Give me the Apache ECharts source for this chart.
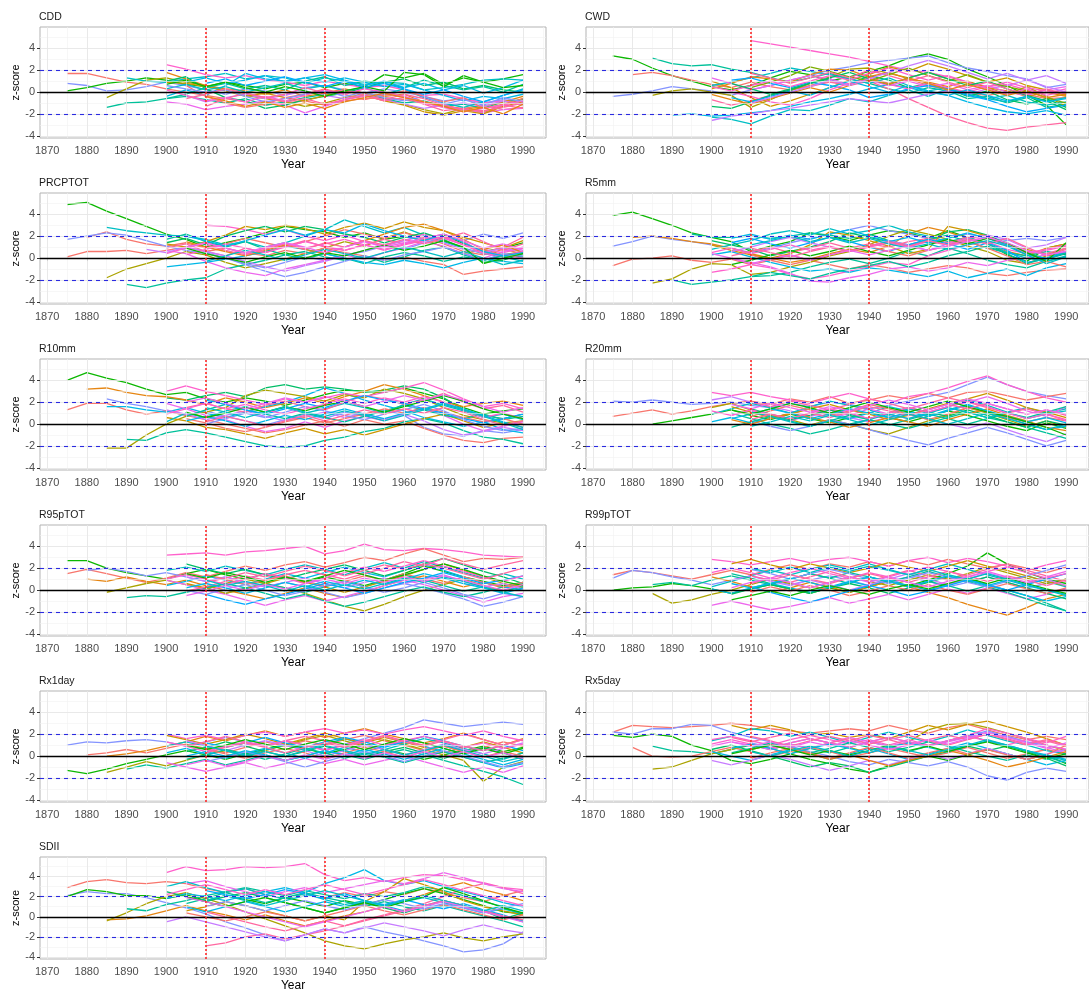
<!DOCTYPE html>
<html>
<head>
<meta charset="utf-8">
<script src="https://cdn.jsdelivr.net/npm/echarts@6/dist/echarts.min.js"></script>
<style>
html,body{margin:0;padding:0;background:#ffffff;}
#chart{width:1089px;height:993px;}
</style>
</head>
<body>
<div id="chart"></div>
<script>
// Moving-window z-scores of ETCCDI precipitation indices, one line per station.
// Each station row: [station slot, first year, z-scores every STEP years up to 1990].

const STEP = 5;
const YEAR_TICKS = [1870,1880,1890,1900,1910,1920,1930,1940,1950,1960,1970,1980,1990];
const YEAR_MINOR = [1875,1885,1895,1905,1915,1925,1935,1945,1955,1965,1975,1985,1995];
const Z_TICKS = [-4,-2,0,2,4];
const Z_MINOR = [-3,-1,1,3,5];
const BREAK_YEARS = [1910,1940];
const Z_LIMITS = [-2,2];
const INDICES = ['CDD','CWD','PRCPTOT','R5mm','R10mm','R20mm','R95pTOT','R99pTOT','Rx1day','Rx5day','SDII'];

const cdd = [
  [0,1875,[1.7,1.7,1.3,0.9,0.7,0.3,0.0,-0.3,-0.6,-0.9,-1.2,-1.0,-0.8,-1.2,-0.8,-0.6,-0.5,-0.7,-1.0,-1.3,-1.5,-1.2,-1.6,-1.4]],
  [11,1875,[0.8,0.6,0.1,0.2,0.5,0.9,0.6,0.2,-0.2,0.3,0.1,-0.3,0.4,0.6,0.2,-0.1,0.3,0.0,-0.4,-0.8,-0.6,-1.0,-0.7,-0.9]],
  [5,1875,[0.1,0.4,0.8,1.0,1.3,1.1,0.7,0.5,0.9,0.6,0.3,0.7,0.9,0.4,0.8,0.5,1.6,1.3,1.7,0.7,1.3,0.9,1.2,1.6]],
  [3,1885,[-0.5,0.3,1.1,1.3,0.9,0.6,0.2,-0.3,-0.6,-0.9,-1.3,-1.0,-0.5,-0.2,-0.6,-1.1,-1.6,-2.0,-1.5,-1.9,-1.2,-0.6]],
  [7,1885,[-1.4,-1.0,-0.9,-0.6,-0.4,-0.7,-1.0,-0.6,-1.2,-0.9,-0.5,-0.2,0.2,-0.3,-0.6,-1.0,-0.8,-1.3,-1.1,-1.5,-0.9,-0.7]],
  [8,1890,[1.3,1.0,0.9,1.2,1.4,1.7,1.2,1.5,1.3,0.8,1.3,1.0,0.7,0.9,0.8,0.2,0.4,0.7,1.1,1.2,1.1]],
  [14,1900,[2.5,2.1,1.6,1.3,1.5,1.1,0.9,0.6,1.0,0.7,0.4,0.6,0.2,-0.3,-0.2,-0.6,-1.0,-0.8,-1.1]],
  [1,1900,[1.8,1.2,0.6,0.3,0.1,-0.2,0.2,-0.4,-0.1,0.3,-0.1,-0.4,-0.2,-0.9,-1.2,-1.6,-1.3,-0.9,-0.4]],
  [9,1900,[-0.4,0.2,-0.3,0.6,1.7,1.2,1.0,1.3,0.9,1.3,0.9,0.5,0.7,0.2,-0.3,-0.8,-0.4,-0.6,-0.2]],
  [13,1900,[-0.9,-1.1,-1.6,-1.3,-1.1,-0.8,-1.2,-1.9,-1.3,-0.7,-0.4,-0.2,-0.4,-0.9,-1.4,-1.6,-1.9,-1.6,-1.5]],
  [6,1900,[1.0,1.4,0.3,-0.5,-0.8,-1.5,-1.2,-0.7,-0.4,-0.1,0.4,0.9,1.2,0.6,0.9,0.3,0.6,0.2,0.0]],
  [12,1905,[-0.3,-0.9,-0.5,-0.2,-0.6,-0.3,0.1,-0.3,-0.6,-0.2,-0.7,-1.1,-1.5,-1.2,-1.0,-1.3,-0.8,-1.2]],
  [2,1900,[0.9,0.8,0.5,0.1,-0.4,-0.1,-0.5,-0.8,-0.3,0.1,-0.3,-0.8,-1.2,-1.8,-2.1,-1.7,-2.0,-1.3,-0.9]],
  [8,1900,[0.3,0.7,0.2,0.5,0.0,0.4,0.8,0.3,0.6,0.1,0.4,-0.2,0.3,-0.5,-1.0,-1.4,-0.9,-0.3,0.3]],
  [0,1905,[0.6,-0.4,-1.0,-1.4,-1.1,-0.5,-0.2,0.3,-0.2,-0.7,-0.3,0.1,-0.4,-0.9,-0.5,-1.5,-1.1,-0.6]],
  [15,1910,[-1.3,-0.6,-0.1,-0.5,-0.2,0.4,-0.1,0.2,-0.3,-0.8,-0.5,-1.1,-1.7,-1.5,-1.8,-1.2,-1.5]],
  [7,1900,[-0.6,-0.2,0.4,0.8,0.3,0.6,0.2,1.0,1.4,0.6,1.0,0.8,0.4,1.1,0.6,0.2,0.5,0.0,0.7]],
  [11,1900,[0.6,0.3,0.0,0.2,-0.4,-0.9,-0.6,-0.2,0.1,-0.4,0.0,-0.5,-0.8,-0.4,-1.1,-0.7,-1.2,-0.5,-0.9]],
  [14,1900,[0.2,-0.3,-0.8,-0.5,-0.9,-0.4,-0.8,-0.3,0.2,-0.2,0.3,0.0,-0.4,-1.0,-1.4,-1.8,-1.5,-1.2,-0.8]],
  [9,1905,[0.9,1.3,0.8,1.1,1.5,0.9,1.3,1.6,1.1,0.6,1.0,0.4,0.8,0.2,0.6,-0.1,0.4,1.1]],
  [5,1900,[0.7,1.1,0.5,0.9,0.4,0.0,0.5,0.1,-0.4,0.1,0.5,0.1,1.8,1.6,0.5,1.5,0.9,0.4,0.6]],
  [15,1905,[-0.6,-0.2,0.3,-0.1,-0.5,-0.9,-0.6,-1.1,-0.7,-0.3,-0.7,-0.2,-0.6,-1.2,-1.6,-1.7,-1.4,-1.0]],
  [10,1910,[0.8,1.2,0.6,1.0,1.4,0.9,0.5,1.0,0.4,0.8,0.3,-0.2,0.2,-0.4,-0.9,-0.3,0.2]],
  [1,1910,[-0.4,-0.8,-1.3,-0.9,-1.4,-1.0,-1.5,-0.9,-0.5,-0.1,-0.5,-0.9,-1.3,-1.8,-1.4,-2.0,-1.1]]
];

const cwd = [
  [5,1875,[3.3,3.0,2.2,1.5,1.0,0.5,0.2,0.6,1.3,1.9,1.6,1.0,1.4,1.9,2.4,3.1,3.5,3.0,2.1,1.4,0.6,-0.3,-1.2,-3.0]],
  [7,1885,[3.1,2.6,2.4,2.5,2.1,1.8,1.3,0.9,1.3,1.7,1.2,0.8,0.3,-0.1,0.4,0.1,-0.6,-0.4,-1.0,-0.5,-1.4,-1.1]],
  [14,1910,[4.7,4.4,4.1,3.8,3.5,3.2,2.8,2.4,2.0,1.8,1.4,0.9,0.5,0.7,0.2,-0.1,0.3]],
  [15,1900,[-0.7,-1.2,-0.8,-0.3,0.2,0.5,0.9,0.6,1.0,0.3,-0.6,-1.4,-2.2,-2.8,-3.3,-3.5,-3.2,-3.0,-2.8]],
  [11,1875,[-0.4,-0.2,0.1,0.5,0.3,0.1,-0.3,0.2,0.6,1.1,1.5,2.0,2.3,2.7,2.9,3.1,3.3,2.7,2.2,1.9,1.5,1.2,0.4,0.7]],
  [0,1880,[1.6,1.8,1.5,1.1,0.7,0.4,0.9,0.5,0.2,0.6,1.0,0.7,1.4,0.8,1.2,0.6,0.2,-0.1,-0.3,0.0,-0.2,-0.6,-0.5]],
  [3,1885,[-0.3,0.1,0.3,0.0,-0.3,-1.4,-0.7,0.1,0.8,1.4,2.1,2.2,1.7,1.3,1.8,1.2,0.8,0.4,-0.2,0.5,-0.4,-1.3]],
  [9,1890,[-2.1,-2.0,-2.2,-2.1,-1.9,-1.7,-1.3,-0.9,-0.6,-0.2,0.3,0.7,0.4,0.0,-0.3,-0.9,-1.4,-1.8,-2.0,-1.7,-2.1]],
  [8,1900,[-2.3,-2.5,-2.9,-2.2,-1.6,-1.7,-1.2,-0.6,-0.9,-0.3,0.2,-0.4,0.3,0.0,-0.6,-0.9,-0.4,-0.8,-0.5]],
  [6,1900,[-1.3,-1.5,-0.9,-0.3,0.2,0.8,1.2,0.7,1.5,1.1,0.4,0.8,0.3,-0.4,0.1,-0.7,-1.1,-0.6,-1.4]],
  [2,1900,[1.0,0.4,-0.5,-1.3,-0.8,-0.2,0.4,1.1,1.6,2.3,1.9,2.6,2.1,1.5,0.9,1.3,0.6,0.2,-0.3]],
  [12,1900,[-2.6,-2.2,-2.0,-1.7,-1.5,-1.2,-0.9,-0.6,-0.8,-1.0,-0.6,-0.2,0.1,-0.2,0.3,0.6,1.1,1.5,0.8]],
  [8,1900,[0.6,0.9,1.3,1.7,2.2,1.9,1.6,1.2,0.8,1.3,0.6,0.1,0.4,-0.2,-0.6,-0.3,-0.9,-1.2,-0.9]],
  [1,1900,[0.3,0.8,1.4,1.2,0.9,1.6,2.1,2.0,1.4,1.8,1.2,0.9,0.5,1.0,0.4,0.1,-0.4,0.0,-0.4]],
  [13,1900,[1.3,0.8,0.2,0.6,1.1,1.5,1.2,0.7,1.1,0.6,1.0,0.5,0.8,0.2,0.6,0.0,-0.3,0.2,0.5]],
  [10,1905,[1.1,1.3,0.8,0.4,0.9,0.6,0.2,-0.5,-0.2,0.3,0.6,0.3,-0.3,-0.7,-1.3,-1.8,-1.5,-1.2]],
  [14,1905,[0.0,-0.4,-0.9,-1.2,-0.6,0.2,0.8,1.2,0.7,0.3,0.8,0.4,0.0,0.5,0.9,0.4,0.1,-0.1]],
  [4,1910,[0.4,0.9,1.5,2.3,1.9,1.4,1.0,1.6,2.2,1.5,1.0,1.6,0.9,0.5,0.1,-0.5,-1.0]],
  [14,1900,[0.5,0.1,0.6,1.0,0.5,1.0,1.5,1.1,1.7,2.2,1.6,1.1,1.5,0.9,0.3,-0.2,0.3,-0.3,0.1]],
  [6,1905,[0.8,0.3,-0.2,0.3,0.8,1.3,1.8,1.2,0.7,1.3,1.8,1.2,0.6,1.0,0.3,-0.3,-0.8,-1.6]],
  [9,1905,[-0.5,-0.9,-0.4,0.1,-0.3,0.4,1.0,0.5,0.0,0.6,0.1,-0.3,0.2,-0.3,-0.8,-0.4,-0.9,-0.6]],
  [15,1910,[1.7,1.3,0.8,1.3,1.8,1.3,2.0,1.5,1.0,1.5,0.9,0.4,0.9,0.3,-0.2,0.3,-0.2]],
  [1,1900,[-0.2,-0.7,-1.1,-0.6,-0.1,0.4,0.0,0.6,1.2,0.7,1.3,0.8,0.2,0.7,0.2,-0.3,0.1,-0.5,-0.2]],
  [12,1910,[-1.0,-0.5,0.0,0.5,1.1,0.6,1.2,1.8,2.4,2.9,2.4,1.8,1.2,1.7,1.1,0.5,0.0]]
];

const prcptot = [
  [5,1875,[4.9,5.1,4.3,3.6,2.9,2.2,1.7,1.0,1.4,1.8,2.3,2.9,2.6,2.4,1.9,2.3,1.7,2.0,1.6,2.1,1.3,0.6,0.9,1.4]],
  [3,1885,[-1.8,-1.0,-0.5,0.0,0.6,0.3,-0.4,-0.9,-0.5,-0.1,0.4,0.9,1.5,1.1,1.8,2.4,1.7,1.0,0.4,0.8,0.3,0.6]],
  [7,1890,[-2.4,-2.7,-2.3,-2.0,-1.8,-1.0,-0.6,-0.2,0.3,-0.1,0.4,0.0,-0.5,0.1,0.5,0.2,-0.3,0.1,-0.2,0.3,0.5]],
  [0,1875,[0.1,0.6,0.6,0.7,0.4,0.7,1.0,0.6,0.9,0.5,0.2,0.7,0.4,0.9,0.5,0.2,-0.2,0.1,-0.3,-0.6,-1.5,-1.2,-1.0,-0.8]],
  [0,1880,[1.9,2.4,1.7,1.3,1.1,1.4,0.9,1.3,1.8,1.4,1.0,1.5,2.0,2.6,2.2,1.8,2.3,1.9,1.3,0.6,0.3,0.8,0.4]],
  [11,1875,[1.7,2.0,2.3,2.1,1.6,1.1,0.7,0.4,0.0,-0.5,-0.9,-0.4,0.1,-0.2,0.3,0.6,1.1,0.8,1.4,1.9,1.6,2.2,1.8,2.3]],
  [8,1885,[2.8,2.5,2.3,2.1,2.0,1.7,1.2,1.5,1.0,1.4,2.0,2.6,3.5,2.9,2.3,2.8,2.1,1.5,0.9,0.4,0.1,-0.3]],
  [14,1910,[3.0,2.9,2.6,2.2,2.6,2.0,1.6,2.1,1.5,1.1,1.6,2.2,1.8,1.2,0.8,0.5,0.9]],
  [2,1900,[1.3,1.0,1.5,2.1,2.9,2.6,3.0,2.7,2.2,2.8,3.2,2.7,3.3,2.8,2.5,1.9,1.4,0.9,1.6]],
  [13,1900,[0.7,0.4,-0.3,-0.9,-1.3,-1.6,-1.0,-0.6,-0.2,0.3,-0.1,0.5,0.9,1.5,1.1,0.4,0.0,0.6,1.0]],
  [9,1900,[-0.8,-0.6,-0.4,-0.1,0.2,0.6,1.1,0.8,0.4,0.0,-0.4,-0.6,-0.2,-0.5,-0.9,-0.4,0.0,-0.3,-0.5]],
  [6,1900,[1.4,1.8,1.2,2.0,2.5,2.9,2.4,2.9,2.6,2.2,1.9,1.4,1.9,2.3,1.7,0.9,-0.4,-0.2,0.4]],
  [15,1900,[0.9,1.3,0.6,0.2,0.9,0.5,1.1,1.6,1.0,0.7,1.2,1.7,1.3,1.8,2.2,1.5,0.5,1.0,1.9]],
  [7,1900,[1.7,2.2,1.5,1.0,1.5,0.8,0.3,0.6,0.1,-0.2,0.2,-0.4,0.1,0.7,1.0,0.3,-0.2,0.2,0.1]],
  [12,1895,[0.8,0.5,1.0,0.6,0.2,-0.3,-0.8,-1.2,-0.7,-0.3,0.2,0.7,1.2,1.6,2.0,1.4,0.8,0.5,0.9,0.6]],
  [1,1905,[1.5,1.0,0.6,0.2,0.7,1.2,0.8,0.4,1.0,1.6,2.2,2.8,3.1,2.5,1.7,0.8,1.2,0.5]],
  [14,1905,[0.3,0.8,1.3,0.9,0.5,1.0,1.5,1.1,0.7,1.2,0.8,1.3,1.6,2.0,1.2,0.6,0.3,0.0]],
  [11,1910,[0.5,0.0,-0.6,-1.2,-1.7,-1.3,-0.8,-0.3,0.2,-0.2,0.3,0.6,1.0,0.4,-0.2,0.4,0.2]],
  [14,1900,[0.4,0.9,1.4,0.9,0.4,0.9,1.4,0.9,1.3,1.7,1.2,0.7,1.2,1.6,1.9,1.2,0.4,0.2,0.6]],
  [9,1905,[2.0,1.6,1.1,1.6,2.1,2.6,2.1,2.6,2.3,3.1,2.5,2.0,1.6,2.2,1.4,0.6,0.2,0.5]],
  [5,1905,[0.9,0.4,0.0,-0.4,0.1,0.5,0.0,0.5,0.2,0.7,1.2,0.7,1.1,1.6,1.0,-0.5,0.0,0.4]],
  [15,1910,[1.2,0.7,0.3,0.8,1.3,0.8,1.4,1.0,1.6,1.2,1.7,1.3,1.8,2.3,1.5,0.7,1.3]],
  [8,1910,[-0.3,0.2,0.7,0.3,-0.2,0.3,0.8,0.4,0.0,0.5,1.0,0.6,0.1,0.6,0.0,-0.6,-0.2]],
  [13,1905,[1.0,1.4,0.9,0.5,1.0,1.4,1.0,0.5,1.0,1.5,1.0,1.4,1.8,2.2,1.6,0.9,1.3,0.7]]
];

const r5mm = [
  [5,1875,[3.9,4.2,3.6,3.0,2.3,1.9,1.5,0.6,1.1,1.5,2.3,2.0,1.6,2.1,2.5,2.3,1.8,2.5,1.9,1.4,0.3,-0.3,0.9,1.3]],
  [11,1875,[1.1,1.5,2.0,1.7,1.5,1.2,0.9,0.5,0.9,1.4,1.8,2.2,2.6,3.0,2.5,2.2,1.8,2.0,2.2,1.9,1.6,1.8,1.6,1.9]],
  [1,1880,[1.9,2.0,1.8,1.5,1.3,0.9,0.4,0.0,-0.4,-0.1,0.4,0.8,0.5,1.1,2.2,2.8,2.4,1.8,1.3,0.6,0.2,0.9,1.3]],
  [0,1875,[-0.7,-0.1,0.0,0.2,-0.2,-0.4,-0.1,-0.6,-0.2,0.3,-0.2,-0.6,-1.0,-0.6,-0.9,-1.3,-1.0,-0.7,-0.9,-1.4,-1.6,-1.3,-1.1,-1.0]],
  [3,1885,[-2.3,-1.9,-1.0,-0.5,-0.6,-1.5,-1.3,-0.8,-0.4,0.2,0.6,1.2,2.0,2.6,2.2,1.7,1.1,0.6,-0.2,-0.5,0.2,0.4]],
  [7,1890,[-2.0,-2.4,-2.2,-2.0,-1.7,-1.6,-1.3,-0.8,-0.4,-0.1,-0.5,0.0,0.6,0.2,0.9,0.4,-0.2,-0.6,-0.9,-0.3,0.1]],
  [7,1895,[2.2,1.9,1.9,2.0,1.8,2.0,2.3,2.1,1.8,2.2,1.6,1.2,1.7,2.1,1.5,0.9,0.5,0.2,0.6,0.3]],
  [8,1900,[0.8,1.2,1.6,2.2,2.5,2.1,2.7,2.2,2.5,3.0,2.4,2.0,1.5,1.9,1.3,0.5,0.0,-0.3,0.2]],
  [14,1900,[-1.3,-1.0,-0.6,-0.9,-1.5,-1.9,-1.6,-1.2,-0.8,-0.4,-0.6,0.2,0.7,1.2,1.5,0.8,0.4,0.7,1.1]],
  [9,1900,[0.3,0.6,0.1,-0.4,-0.8,-1.2,-1.0,-1.3,-0.9,-1.1,-1.4,-1.7,-1.2,-1.8,-1.4,-1.0,-1.6,-0.9,-0.5]],
  [13,1900,[0.4,0.0,-0.4,-0.8,-1.4,-2.1,-2.2,-1.8,-1.5,-1.0,-0.8,-1.2,-0.9,-0.4,-0.7,-0.2,0.0,0.3,0.6]],
  [6,1900,[1.6,1.2,0.8,0.2,0.6,1.0,1.5,2.3,1.9,1.5,1.1,1.6,2.4,2.6,2.1,1.3,0.5,-0.1,0.4]],
  [2,1900,[1.2,0.7,0.3,0.0,0.4,1.2,2.4,2.1,1.6,1.1,0.4,0.8,2.9,2.5,2.0,1.2,0.8,0.3,0.9]],
  [12,1905,[0.6,1.0,1.5,1.9,1.4,1.0,0.6,1.1,1.6,1.2,0.7,1.3,1.8,2.1,1.7,0.9,1.2,1.9]],
  [15,1905,[0.2,0.6,1.0,0.5,0.9,1.4,0.9,1.3,1.0,1.5,1.8,1.4,1.9,2.0,1.2,0.6,0.4,0.9]],
  [10,1905,[1.4,1.8,1.3,0.9,1.4,1.9,1.5,1.0,0.6,1.2,1.7,1.3,0.8,1.4,0.7,-0.4,-0.1,0.5]],
  [0,1910,[0.3,-0.2,-0.6,-0.2,0.3,0.7,1.1,0.6,0.2,0.7,1.1,1.5,0.9,0.2,-0.6,-0.3,-0.8]],
  [7,1910,[-1.7,-1.3,-1.6,-1.9,-1.4,-1.0,-0.7,-0.3,-0.8,-0.4,0.2,0.6,1.1,0.4,-0.5,0.0,0.5]],
  [14,1900,[0.5,0.9,0.4,0.8,1.2,0.7,1.1,0.6,1.0,1.4,1.0,1.5,1.2,1.6,1.9,1.1,0.5,0.8,1.2]],
  [9,1905,[1.8,2.2,1.7,2.1,1.7,2.2,2.6,2.0,1.5,1.9,1.4,1.8,2.3,1.8,1.2,0.3,0.0,0.6]],
  [5,1905,[-0.6,-0.2,0.3,0.7,0.2,0.6,1.1,0.6,0.2,0.7,1.2,1.7,1.3,1.8,1.4,0.5,-0.3,1.4]],
  [15,1910,[0.9,0.5,0.1,0.6,1.0,0.6,1.1,1.5,1.1,1.6,1.2,1.7,1.3,1.8,1.0,0.2,0.8]],
  [8,1910,[1.2,1.6,2.0,1.5,1.9,1.4,1.8,1.3,0.9,1.3,0.8,1.2,1.6,1.1,0.3,-0.5,0.1]],
  [13,1905,[0.0,-0.5,-0.1,0.3,-0.2,0.3,0.7,0.3,0.7,1.1,0.7,1.1,1.5,1.9,1.4,0.7,0.3,0.6]]
];

const r10mm = [
  [5,1875,[4.0,4.7,4.2,3.8,3.2,2.7,2.9,2.3,2.0,2.4,2.1,1.7,2.2,2.7,3.1,3.0,2.9,3.3,2.8,2.3,1.5,0.9,1.2,1.4]],
  [6,1900,[2.4,2.2,2.6,2.9,2.5,3.3,3.6,3.2,3.4,3.2,2.9,3.1,3.5,3.2,2.4,1.3,0.8,0.5,0.9]],
  [1,1880,[3.2,3.3,2.9,2.6,2.5,2.2,1.8,2.4,2.0,1.5,1.9,2.4,1.9,2.5,3.0,3.6,3.2,2.6,2.0,1.6,1.9,2.1,1.7]],
  [11,1885,[2.3,1.9,1.6,1.2,0.8,1.2,0.7,0.3,-0.1,0.4,0.9,0.5,1.1,0.7,1.3,0.8,-0.3,-0.9,-1.1,-0.6,-0.8,-0.5]],
  [0,1875,[1.3,1.9,1.9,1.3,0.9,1.2,0.8,0.4,0.0,-0.4,-0.8,-0.5,-0.1,0.3,-0.2,0.4,0.0,0.3,-0.4,-1.0,-1.5,-1.7,-1.3,-1.2]],
  [9,1885,[1.6,1.6,1.3,1.1,1.5,1.0,0.6,1.1,1.6,2.0,2.6,3.3,2.8,2.2,1.7,1.2,0.6,0.2,-0.2,0.2,-0.5,-0.8]],
  [3,1885,[-2.2,-2.2,-1.0,0.0,0.7,1.1,1.5,2.6,3.1,2.8,2.5,2.1,2.7,2.4,3.2,2.8,2.3,1.5,0.8,0.4,0.1,0.3]],
  [7,1890,[-1.4,-1.5,-0.8,-0.5,-0.8,-1.2,-1.6,-2.0,-2.1,-2.0,-1.5,-1.2,-0.7,-0.4,0.2,0.5,0.1,-0.6,-1.2,-1.4,-1.8]],
  [14,1900,[3.0,3.5,3.0,2.6,2.2,1.8,2.3,2.0,2.4,2.8,2.5,2.9,3.3,3.8,3.1,2.3,1.6,1.9,1.4]],
  [13,1900,[1.9,1.4,0.8,0.4,-0.2,-0.7,-0.4,0.2,-0.3,0.3,0.7,0.3,1.0,1.5,0.8,0.0,-0.6,-0.2,0.2]],
  [2,1900,[0.6,0.3,-0.3,-0.5,-0.9,-1.3,-0.8,-0.4,-0.9,-0.5,-1.0,-0.5,0.0,0.5,0.9,0.3,-0.3,0.1,-0.3]],
  [8,1900,[0.2,1.0,0.6,1.2,1.6,1.1,1.5,1.0,1.4,1.9,1.5,1.0,1.8,2.3,1.7,1.2,0.6,0.9,0.4]],
  [12,1900,[1.3,0.9,0.4,0.8,1.2,0.7,0.3,0.7,1.1,0.6,1.0,0.4,0.9,0.3,-0.5,-1.0,-0.7,-0.3,-0.6]],
  [15,1905,[1.5,1.9,1.4,1.1,1.7,2.1,1.6,1.3,2.0,2.6,2.3,1.8,2.2,2.8,2.0,1.4,1.7,1.1]],
  [7,1905,[0.7,1.3,1.8,1.3,0.9,0.5,1.0,0.6,0.2,0.7,1.2,1.7,1.3,0.8,0.5,0.9,0.4,0.7]],
  [0,1905,[0.5,0.1,-0.4,-0.7,-0.3,0.2,0.6,0.1,0.5,0.9,1.4,1.0,1.5,1.1,0.6,0.2,0.5,0.0]],
  [10,1910,[2.2,1.8,1.3,0.9,1.4,1.9,1.5,2.1,2.6,2.2,1.9,1.4,1.0,0.5,0.1,0.5,0.9]],
  [11,1910,[0.0,0.5,1.0,0.6,1.1,1.6,1.2,0.8,0.4,0.9,1.3,1.8,1.2,0.4,-0.2,-0.6,-0.4]],
  [14,1900,[0.9,1.4,1.9,1.4,1.8,1.3,0.9,1.4,1.8,2.3,1.9,2.4,2.0,2.5,2.0,1.3,0.6,1.0,0.5]],
  [9,1905,[0.3,0.7,0.3,-0.2,0.3,0.8,0.4,0.9,1.4,0.9,0.5,1.0,1.4,1.9,1.4,0.8,0.2,-0.3]],
  [5,1905,[1.1,0.6,1.0,1.5,1.1,1.6,1.2,1.7,2.1,1.6,1.1,1.6,2.1,2.6,2.1,1.4,0.9,0.5]],
  [15,1910,[0.2,0.7,0.3,-0.2,0.3,0.8,0.3,0.8,1.3,0.9,1.4,1.0,1.5,1.1,0.4,-0.1,0.3]],
  [8,1910,[1.5,1.1,0.6,1.1,1.6,1.1,0.7,1.2,0.8,0.3,0.8,1.3,1.8,1.3,0.7,0.1,-0.5]],
  [13,1905,[2.0,2.4,1.9,1.4,1.9,2.4,2.0,2.5,2.1,1.6,2.1,2.6,2.2,2.7,2.2,1.6,1.1,1.5]]
];

const r20mm = [
  [11,1875,[2.1,2.0,2.2,2.0,1.8,1.9,2.0,1.7,1.5,1.9,1.6,2.0,1.8,1.4,1.7,2.1,2.5,2.9,3.6,4.3,3.6,3.0,2.6,2.3]],
  [0,1875,[0.7,1.0,1.3,0.9,1.2,1.6,1.9,2.1,1.8,2.3,2.0,2.5,1.9,2.2,2.6,2.3,2.8,2.4,2.9,3.0,2.6,2.2,2.5,2.8]],
  [5,1885,[0.0,0.3,0.6,0.9,1.3,0.8,0.4,0.9,0.5,0.1,0.6,1.1,0.6,0.2,0.7,1.2,0.8,0.3,-0.2,-0.6,0.1,-0.4]],
  [14,1900,[2.9,2.6,2.9,2.5,2.2,1.9,2.4,2.8,2.3,1.9,2.5,2.8,3.3,3.9,4.4,3.6,3.0,2.4,2.0]],
  [12,1900,[2.2,2.5,2.0,1.6,1.2,0.7,1.1,0.6,0.2,0.6,1.0,0.4,0.0,-0.4,0.1,-0.5,-1.1,-1.6,-0.9]],
  [8,1900,[0.9,1.4,1.9,1.5,1.0,1.6,2.1,1.7,1.3,0.8,1.4,1.0,1.6,2.2,1.7,1.1,1.5,1.0,1.4]],
  [3,1900,[1.5,1.9,1.3,0.8,0.4,-0.1,0.4,0.0,-0.5,-0.9,-0.3,0.3,0.8,1.5,1.0,0.4,-0.2,0.3,-0.3]],
  [7,1905,[1.0,0.5,0.0,-0.4,-0.9,-0.5,0.0,0.4,0.0,-0.4,0.1,0.6,1.1,0.6,0.2,-0.3,-0.8,-1.3]],
  [9,1900,[0.2,0.6,0.1,0.5,1.0,1.4,0.9,0.5,1.0,1.6,1.2,0.7,1.3,1.8,1.2,0.6,0.0,-0.5,-0.2]],
  [13,1905,[0.8,1.2,0.7,0.3,0.8,1.3,0.8,1.4,0.9,0.5,1.1,1.6,2.0,2.5,1.9,1.2,0.7,1.6]],
  [2,1905,[1.6,1.1,0.6,0.9,1.4,1.8,1.3,0.9,0.4,0.8,1.4,1.9,2.3,2.8,2.2,1.5,1.1,0.6]],
  [0,1910,[0.7,1.2,1.7,1.3,0.8,1.2,1.8,1.4,0.9,0.4,0.9,1.5,1.1,0.6,0.2,0.6,0.3]],
  [6,1910,[1.4,0.9,0.4,0.8,1.3,0.9,0.5,1.0,1.5,1.1,0.7,1.3,0.8,0.2,-0.3,0.3,-0.1]],
  [11,1910,[0.3,-0.2,-0.6,-0.2,0.4,0.0,-0.5,-1.0,-1.5,-1.9,-1.3,-0.8,-0.3,-0.8,-1.4,-2.0,-1.5]],
  [15,1910,[2.0,1.6,2.1,1.7,1.3,1.8,2.3,1.9,1.4,1.9,2.4,2.0,1.5,1.0,1.4,0.9,0.4]],
  [7,1905,[-0.3,0.2,0.7,0.3,-0.2,0.3,0.8,0.4,-0.1,0.4,0.9,0.5,0.0,0.5,1.0,0.6,1.1,1.6]],
  [1,1905,[0.4,0.0,0.5,1.0,0.6,0.2,-0.3,0.1,0.6,0.2,-0.2,0.4,0.9,1.4,0.8,0.3,-0.3,-0.6]],
  [8,1910,[1.1,0.7,0.2,-0.2,0.3,-0.1,0.4,0.9,0.5,1.0,1.5,1.1,0.6,1.1,0.5,0.9,1.2]],
  [14,1900,[1.2,0.8,1.3,0.9,0.5,1.0,1.4,1.0,0.5,1.0,1.5,1.1,1.6,2.1,1.6,1.0,0.5,0.9,0.3]],
  [9,1905,[0.5,0.9,1.4,1.0,0.5,0.9,1.4,1.0,0.6,1.1,0.7,1.2,1.7,1.2,0.7,0.2,0.6,0.1]],
  [5,1905,[1.3,0.9,1.4,1.9,1.5,1.0,1.5,2.0,1.5,1.1,1.6,2.1,1.6,1.1,0.7,0.2,-0.3,-1.0]],
  [15,1910,[0.4,0.9,0.5,1.0,0.6,1.1,1.6,1.2,0.8,1.3,1.8,1.4,1.9,1.4,0.9,1.3,0.8]],
  [8,1910,[-0.2,0.2,0.7,0.3,0.8,0.4,-0.1,0.4,0.9,0.5,0.0,0.5,1.0,0.5,0.0,-0.5,0.0]],
  [13,1905,[1.8,1.4,1.9,1.5,1.1,1.6,1.2,1.7,2.2,1.8,1.3,1.8,2.3,1.9,1.4,0.9,1.3,0.9]]
];

const r95ptot = [
  [14,1900,[3.2,3.3,3.4,3.2,3.5,3.6,3.8,4.0,3.3,3.6,4.2,3.7,3.6,3.8,3.7,3.5,3.2,3.1,3.0]],
  [5,1875,[2.7,2.7,2.0,1.6,1.3,1.0,1.5,1.9,1.4,1.0,1.5,1.1,0.7,1.2,0.8,0.4,0.9,1.5,2.2,1.7,1.2,0.8,0.4,0.7]],
  [0,1875,[1.5,1.9,1.5,1.1,0.7,1.1,1.6,1.2,1.7,2.2,1.8,2.3,2.6,2.1,2.5,3.0,2.7,3.3,3.8,3.2,2.6,2.9,2.8,3.0]],
  [1,1880,[1.0,0.8,1.2,0.8,0.5,0.9,0.4,0.0,-0.4,-0.8,-0.3,0.2,-0.3,-0.7,-0.2,0.4,0.9,1.3,0.8,0.3,0.7,0.2,0.5]],
  [3,1885,[-0.2,0.2,0.6,0.9,0.5,0.1,0.6,1.0,0.6,0.2,-0.3,-0.9,-1.5,-1.9,-1.3,-0.6,0.0,0.5,1.0,0.4,-0.1,0.3]],
  [7,1890,[-0.7,-0.5,-0.6,-0.2,0.2,-0.3,0.2,0.6,0.2,-0.2,0.3,0.8,0.3,0.9,1.4,0.9,0.4,-0.1,0.3,-0.2,0.4]],
  [11,1880,[1.8,2.0,1.7,1.3,1.6,1.2,0.8,1.2,0.7,0.3,0.7,0.3,-0.2,-0.7,-0.3,0.2,0.6,0.2,-0.3,-0.8,-1.5,-1.1,-0.6]],
  [8,1900,[1.8,2.1,1.7,2.2,1.8,1.4,1.9,2.3,1.9,1.4,2.0,2.5,2.0,2.6,2.1,1.6,1.1,1.5,1.0]],
  [9,1900,[0.4,0.8,1.3,0.9,0.5,1.0,1.5,1.1,1.6,2.1,1.6,1.2,1.8,2.3,1.8,1.2,0.7,0.3,0.0]],
  [13,1900,[0.9,0.5,0.0,-0.4,-0.9,-1.4,-0.9,-0.5,-1.0,-0.6,-0.1,0.4,0.9,0.5,0.0,-0.5,-1.1,-0.6,-0.3]],
  [2,1905,[0.6,0.2,-0.3,0.1,0.6,1.1,0.7,0.3,-0.2,0.3,0.8,1.3,1.9,2.4,1.8,1.2,0.6,0.2]],
  [6,1905,[2.4,1.9,1.5,1.9,1.4,1.0,1.5,1.9,2.3,1.8,1.3,1.8,2.4,2.9,2.3,1.7,1.2,0.6]],
  [12,1905,[1.2,0.8,1.2,0.7,0.3,0.7,1.1,0.6,0.2,0.7,1.1,0.6,1.0,1.4,0.8,0.3,0.6,0.1]],
  [15,1905,[-0.1,0.3,0.8,1.3,0.9,1.4,1.8,1.4,1.0,1.5,2.0,2.6,2.2,2.9,2.4,1.9,2.3,2.7]],
  [7,1910,[0.2,0.6,0.2,-0.3,-0.8,-0.4,-1.0,-1.5,-1.1,-0.6,-0.1,0.3,-0.2,-0.6,-0.2,0.3,0.7]],
  [0,1910,[1.4,1.0,0.5,0.9,1.3,0.8,0.4,0.8,1.3,0.9,1.5,1.0,0.6,1.2,0.7,0.3,0.7]],
  [10,1910,[-0.4,-0.9,-1.3,-0.8,-0.4,0.1,0.6,0.2,-0.3,0.2,0.7,1.1,1.6,1.1,0.6,0.9,1.3]],
  [11,1905,[0.0,-0.4,0.1,0.5,0.0,-0.5,-0.1,0.4,0.8,0.3,-0.2,0.2,0.7,0.2,-0.4,-0.8,-0.3,-0.6]],
  [14,1900,[1.0,1.4,1.0,0.5,1.0,1.5,1.1,0.6,1.1,1.6,2.1,1.7,2.2,2.7,2.2,1.7,1.2,0.8,1.3]],
  [9,1905,[0.2,0.6,0.2,-0.3,0.2,0.7,0.3,0.8,0.4,0.9,0.5,1.0,1.5,1.1,0.6,0.2,-0.3,0.2]],
  [5,1905,[1.5,1.1,1.6,1.2,0.7,1.2,0.8,1.3,1.8,1.4,0.9,1.4,1.9,2.4,1.9,1.3,0.8,0.4]],
  [15,1910,[0.7,1.1,1.6,1.2,1.7,2.2,1.8,1.3,1.8,2.3,1.9,2.4,2.0,1.5,1.0,1.5,2.0]],
  [8,1910,[0.9,0.4,0.8,0.4,-0.1,0.4,0.0,0.5,0.1,0.6,1.1,0.7,1.2,0.8,0.3,-0.2,-0.6]],
  [13,1905,[-0.5,-0.1,0.4,0.0,0.5,0.1,0.6,1.0,0.6,1.1,0.7,1.2,0.8,1.3,0.9,0.4,0.0,0.5]]
];

const r99ptot = [
  [0,1875,[1.4,1.8,1.6,1.3,1.0,1.4,1.8,1.4,1.9,2.3,1.9,2.4,2.1,2.6,2.2,2.7,2.3,2.8,2.4,2.0,2.4,2.0,1.6,2.1]],
  [11,1875,[1.1,1.8,1.6,1.2,0.9,0.5,0.9,1.3,0.9,0.5,0.9,1.3,0.9,0.4,0.8,1.2,0.8,0.3,0.7,1.2,0.7,0.2,0.6,1.0]],
  [3,1885,[-0.3,-1.2,-0.9,-0.4,0.0,0.5,1.0,0.6,0.2,0.7,1.2,0.8,0.4,0.9,1.4,1.0,1.5,2.1,1.6,1.1,0.6,1.0]],
  [5,1875,[0.0,0.2,0.3,0.6,0.4,0.1,-0.3,0.1,0.5,0.1,-0.3,0.2,-0.2,0.3,0.8,0.4,0.9,1.5,2.2,3.4,2.4,1.6,1.0,0.6]],
  [7,1885,[0.5,0.7,0.4,0.9,1.3,0.9,0.5,1.0,1.5,1.1,0.6,1.2,0.8,0.3,0.8,0.4,-0.1,0.4,0.0,-0.5,-1.2,-1.9]],
  [1,1900,[1.2,0.8,0.3,-0.2,0.2,0.7,0.3,-0.2,0.3,0.8,0.3,-0.2,-0.7,-1.3,-1.8,-2.3,-1.6,-0.8,-0.4]],
  [14,1900,[2.8,2.6,2.3,2.6,2.9,2.5,2.8,3.0,2.6,2.2,2.7,3.0,2.5,2.9,2.6,2.2,1.8,2.3,2.7]],
  [8,1900,[0.3,0.8,1.3,1.8,1.4,1.9,2.3,1.9,2.4,1.9,1.4,1.9,2.4,1.9,1.4,0.9,1.3,0.8,0.3]],
  [13,1900,[-1.4,-1.0,-1.4,-1.8,-1.5,-1.1,-0.7,-1.2,-0.8,-0.4,-0.9,-0.4,0.1,-0.3,0.2,-0.3,-0.8,-0.4,0.1]],
  [9,1900,[0.1,-0.3,0.2,0.6,0.2,-0.2,0.3,0.8,0.4,0.9,0.4,0.0,0.5,1.0,0.5,0.0,-0.5,-1.0,-0.6]],
  [2,1905,[2.4,2.8,2.3,1.9,2.4,2.0,1.6,2.0,2.5,2.1,1.7,2.2,2.7,2.2,1.8,1.3,0.8,0.4]],
  [6,1905,[-0.4,0.1,0.5,0.1,-0.3,0.2,0.6,0.2,-0.3,0.2,0.7,1.2,0.7,1.2,0.7,0.2,-0.3,-0.8]],
  [12,1905,[0.9,1.3,0.8,0.4,0.9,0.5,0.0,0.5,1.0,1.5,1.0,0.5,1.0,1.6,1.1,0.6,1.0,0.4]],
  [7,1905,[1.5,1.1,0.6,1.0,1.5,1.1,1.6,1.2,0.7,1.2,1.7,1.2,0.8,0.3,-0.2,-0.8,-1.4,-1.9]],
  [15,1910,[0.6,1.1,0.7,1.2,1.7,1.2,0.8,1.3,1.8,1.3,0.9,1.4,1.9,2.4,1.8,1.3,0.8]],
  [0,1910,[-0.2,0.3,-0.1,0.4,0.0,-0.5,-0.1,0.4,0.0,0.5,0.0,-0.4,0.1,0.6,0.1,-0.3,0.2]],
  [11,1910,[1.9,1.5,1.0,1.5,1.9,1.5,1.0,0.6,1.1,1.6,1.2,0.7,0.3,0.8,1.3,1.8,2.3]],
  [10,1910,[0.3,-0.2,-0.7,-1.1,-0.6,-0.1,0.4,0.0,-0.5,-0.1,0.4,0.9,0.5,0.0,0.5,1.0,1.5]],
  [14,1900,[1.6,2.0,1.6,1.1,1.6,2.0,1.5,1.1,1.6,1.2,1.7,2.1,1.7,1.2,1.7,2.1,1.6,1.1,1.5]],
  [9,1905,[0.6,0.2,0.6,1.1,0.7,0.2,0.7,1.2,0.8,0.3,0.8,1.3,0.9,0.4,0.9,0.4,0.0,-0.4]],
  [5,1905,[-0.9,-0.5,-0.1,-0.5,0.0,0.4,0.0,-0.4,0.1,0.5,0.1,0.6,1.1,0.6,1.1,0.6,0.1,-0.3]],
  [15,1910,[1.3,0.9,1.4,1.0,0.6,1.1,1.5,1.1,0.7,1.2,1.7,1.3,0.8,1.3,0.9,0.4,0.9]],
  [8,1910,[2.0,1.6,2.1,1.6,2.1,1.7,2.2,1.8,1.4,1.9,1.4,1.0,1.5,1.0,0.5,0.0,-0.5]],
  [13,1905,[0.2,0.7,1.1,0.7,0.2,0.7,1.2,0.7,1.2,0.7,0.3,0.8,1.2,1.7,1.2,0.7,1.2,1.7]]
];

const rx1day = [
  [5,1875,[-1.3,-1.6,-1.2,-0.7,-0.3,0.1,0.5,0.1,-0.3,0.2,0.6,1.1,0.7,0.2,0.6,1.1,0.6,0.2,-0.3,0.1,0.5,0.9,0.4,0.8]],
  [11,1875,[1.0,1.3,1.2,1.4,1.5,1.3,0.9,1.3,1.7,1.3,0.9,1.4,1.0,0.6,1.1,1.6,2.1,2.6,3.3,3.0,2.7,2.9,3.1,2.9]],
  [0,1880,[0.1,0.3,0.6,0.3,0.7,1.1,0.7,0.3,0.8,1.3,0.9,1.4,1.0,1.5,1.9,1.4,1.0,0.5,0.9,0.4,0.8,1.3,0.9]],
  [3,1885,[-1.5,-1.0,-0.5,-0.9,-0.4,0.1,0.5,0.0,0.5,1.0,1.5,1.9,1.4,0.9,1.5,1.1,0.6,0.1,-0.4,-2.3,-1.0,-0.5]],
  [1,1885,[0.0,0.2,0.5,0.9,1.3,1.8,1.4,1.9,2.3,1.8,2.2,1.7,2.1,2.5,2.0,1.6,1.2,1.6,2.1,1.5,1.0,1.6]],
  [7,1890,[-1.2,-0.8,-1.1,-0.7,-0.3,-0.8,-0.4,0.1,-0.4,0.0,0.5,0.1,-0.3,0.2,0.6,0.1,-0.4,-0.9,-1.4,-1.9,-2.6]],
  [14,1900,[2.0,1.6,1.9,1.5,1.9,2.2,1.8,2.2,2.5,2.1,2.4,2.0,2.4,2.7,2.3,1.9,2.3,1.8,1.4]],
  [8,1900,[0.9,1.3,0.9,0.5,0.1,0.6,1.0,0.6,1.1,1.6,1.1,0.6,1.1,1.6,1.2,0.7,0.2,-0.3,0.3]],
  [13,1900,[-0.6,-1.0,-1.4,-1.0,-0.6,-1.1,-0.7,-0.2,-0.7,-0.3,-0.8,-0.4,0.0,-0.5,-1.0,-1.5,-1.0,-1.5,-0.9]],
  [9,1900,[0.3,0.7,0.2,-0.2,0.3,0.7,0.3,-0.2,0.3,0.8,0.4,0.9,1.4,0.9,0.4,-0.1,-0.6,-1.1,-0.7]],
  [2,1900,[1.9,1.5,1.1,1.5,2.0,1.6,1.1,1.6,2.1,1.6,1.2,1.7,1.3,0.8,0.3,0.8,1.3,0.8,0.3]],
  [6,1905,[0.4,0.8,1.3,0.9,0.4,0.0,0.4,0.9,0.4,-0.1,0.4,0.8,0.3,-0.2,0.3,0.8,0.3,-0.3]],
  [12,1905,[1.4,1.0,0.5,1.0,1.4,1.0,0.5,0.0,0.5,1.0,0.6,0.1,0.6,1.1,0.6,0.2,0.7,1.2]],
  [7,1905,[-0.3,0.1,0.6,0.2,-0.3,0.2,0.7,0.3,-0.2,0.3,-0.1,-0.6,-0.1,0.4,-0.1,-0.6,-0.2,0.3]],
  [15,1905,[0.9,1.3,1.8,1.3,0.9,1.4,1.8,1.4,0.9,1.4,1.9,1.4,1.0,1.5,2.0,1.5,1.0,1.5]],
  [0,1910,[0.6,0.2,-0.2,0.3,0.7,0.3,-0.2,0.3,0.8,0.4,-0.1,0.4,0.9,0.4,-0.1,0.4,0.0]],
  [11,1910,[-0.5,-0.1,0.4,0.0,-0.5,-1.0,-0.5,0.0,0.4,0.0,-0.5,0.0,0.5,0.0,-0.5,-1.0,-0.6]],
  [10,1910,[1.2,0.8,1.2,1.7,1.2,0.8,1.3,1.7,1.3,0.8,1.3,1.8,1.4,0.9,0.5,1.0,0.5]],
  [14,1900,[1.3,0.9,0.4,0.9,1.3,0.9,1.4,1.0,0.5,1.0,1.5,1.0,1.4,1.8,1.3,0.8,1.2,0.7,1.1]],
  [9,1905,[0.0,0.4,0.0,0.5,0.1,-0.4,0.0,0.5,0.1,0.6,0.2,-0.3,0.2,0.7,0.2,-0.3,-0.8,-0.3]],
  [5,1905,[1.0,0.6,1.0,1.5,1.1,0.6,1.1,1.5,1.1,0.6,1.1,1.6,1.2,0.7,0.2,0.7,0.2,0.7]],
  [15,1910,[0.3,0.8,1.2,0.8,0.3,0.8,1.2,0.8,1.3,1.8,1.3,0.9,1.4,0.9,0.5,1.0,1.5]],
  [8,1910,[0.9,0.5,0.0,0.4,0.0,0.5,1.0,0.5,0.1,0.6,0.1,0.5,1.0,0.5,0.0,-0.5,-0.1]],
  [13,1905,[-0.8,-0.4,-0.9,-0.5,0.0,-0.4,0.1,-0.3,0.2,-0.2,0.3,-0.1,0.4,-0.1,0.4,-0.1,0.3,-0.2]]
];

const rx5day = [
  [0,1875,[2.2,2.8,2.7,2.6,2.7,2.8,3.0,2.8,2.5,2.3,2.1,2.3,2.5,2.3,2.8,2.4,2.1,2.6,2.9,2.4,1.9,1.5,1.8,1.5]],
  [11,1875,[2.2,2.0,2.5,2.5,2.9,2.8,2.2,1.7,1.3,0.9,0.4,0.0,-0.5,-0.8,-0.3,-0.6,-0.9,-0.5,-1.0,-1.8,-2.2,-1.5,-1.1,-1.4]],
  [5,1875,[1.9,1.7,2.0,1.8,1.0,0.5,-0.4,-0.7,-0.3,0.2,-0.3,-0.7,-1.2,-1.5,-0.9,-0.4,0.0,-0.4,0.1,0.6,0.2,-0.3,0.1,-0.7]],
  [7,1885,[0.9,0.5,0.4,0.2,0.6,1.0,0.6,1.1,0.7,0.3,0.8,1.3,0.9,0.4,0.9,1.4,1.9,1.4,0.9,0.5,-0.1,-0.6]],
  [0,1880,[0.8,0.0,-0.1,0.0,0.4,0.8,0.4,0.0,0.4,0.8,0.4,-0.1,0.3,0.7,0.3,-0.1,0.3,0.8,0.3,-0.2,0.2,0.6,0.2]],
  [3,1885,[-1.2,-1.0,-0.4,0.2,0.6,1.1,0.7,0.2,0.7,1.2,0.8,0.3,0.8,1.3,2.4,2.9,3.0,2.6,2.1,1.6,1.0,0.5]],
  [2,1905,[2.8,2.4,2.8,2.4,1.9,2.1,1.7,2.0,1.6,2.2,2.8,2.4,2.9,3.2,2.7,2.2,1.6,1.0]],
  [8,1900,[1.4,1.8,2.5,2.3,1.8,2.2,1.7,1.2,1.7,2.2,1.7,1.3,1.8,2.4,1.9,1.4,1.0,0.5,0.2]],
  [14,1900,[1.5,1.8,1.4,1.0,1.5,1.9,1.5,1.1,1.5,1.0,1.5,1.0,1.4,1.9,2.5,2.1,1.6,1.2,1.8]],
  [13,1900,[0.9,1.3,1.0,0.6,1.1,0.7,1.2,1.7,1.3,0.9,1.3,0.9,1.3,1.7,2.2,1.8,1.3,0.8,0.3]],
  [9,1900,[0.4,0.0,-0.4,0.1,0.6,0.2,-0.3,0.2,0.7,0.2,-0.3,0.2,0.7,1.2,0.7,0.2,-0.3,-0.8,-0.4]],
  [6,1900,[0.6,1.0,0.5,0.0,-0.5,-1.0,-0.6,-0.9,-1.5,-1.0,-0.5,0.0,0.4,0.9,0.5,0.9,0.4,-0.2,-0.9]],
  [12,1900,[-0.4,-0.8,-0.4,0.1,-0.3,-0.8,-1.3,-0.9,-0.4,-0.8,-0.3,0.2,-0.3,0.2,0.7,0.2,-0.3,0.2,0.6]],
  [7,1905,[0.3,0.7,1.2,0.8,0.3,0.7,1.2,0.8,0.4,0.8,1.3,0.9,0.4,0.0,-0.4,0.1,-0.3,0.0]],
  [15,1905,[1.7,1.3,1.7,2.1,1.6,1.2,1.6,1.1,1.5,1.9,1.4,1.0,1.5,2.0,1.5,1.0,1.4,0.9]],
  [1,1910,[0.6,1.0,0.6,0.2,-0.3,0.1,-0.4,-0.9,-0.4,0.0,0.5,0.1,-0.4,-1.0,-0.6,-0.1,0.4]],
  [11,1910,[1.2,0.8,1.2,1.6,1.2,0.8,1.3,1.7,1.3,0.9,1.4,1.8,2.3,1.8,1.3,1.0,0.6]],
  [0,1910,[-0.2,0.3,0.7,0.3,-0.2,0.3,0.8,0.3,-0.2,0.3,0.7,0.2,0.6,0.1,-0.3,0.1,1.0]],
  [14,1900,[1.1,1.5,1.1,0.7,1.2,1.6,1.2,0.8,1.3,1.7,1.3,0.9,1.4,1.8,1.4,1.0,1.5,1.0,0.6]],
  [9,1905,[0.7,1.1,0.7,0.2,0.7,1.1,0.7,0.3,0.8,1.2,0.8,0.4,0.9,1.4,1.0,0.5,0.1,-0.3]],
  [5,1905,[0.2,0.6,1.0,0.6,0.1,0.5,0.1,0.5,1.0,0.5,0.9,0.4,0.9,1.3,0.8,0.3,-0.2,0.2]],
  [15,1910,[1.8,1.4,0.9,1.4,1.8,1.4,1.9,1.5,1.0,1.5,1.9,1.5,2.0,1.6,1.1,1.5,1.0]],
  [8,1910,[0.4,0.0,0.5,0.9,0.5,0.0,0.5,0.9,0.5,0.1,0.6,1.0,1.5,1.0,0.5,0.0,-0.4]],
  [13,1905,[1.3,0.9,1.3,0.8,1.3,0.9,1.4,1.0,0.6,1.0,1.5,1.1,1.6,2.1,1.7,1.2,0.7,1.2]]
];

const sdii = [
  [0,1875,[2.9,3.5,3.7,3.4,3.3,3.5,3.3,2.8,2.4,2.8,2.2,1.8,2.3,1.9,2.4,2.0,2.5,2.2,2.8,2.4,1.9,1.5,2.1,2.6]],
  [11,1875,[2.1,2.5,2.3,2.3,1.9,1.4,0.9,0.3,-0.5,-1.1,-1.8,-2.4,-1.8,-1.2,-1.6,-1.0,-1.5,-1.9,-2.4,-2.9,-3.5,-3.3,-2.7,-1.5]],
  [5,1875,[2.0,2.7,2.5,2.1,2.1,1.8,2.2,1.6,2.1,1.7,1.3,1.9,1.5,1.0,1.6,1.2,1.7,2.3,2.8,2.3,1.7,1.1,0.5,0.3]],
  [1,1885,[-0.3,-0.2,0.1,0.6,1.1,0.6,0.2,-0.3,0.2,-0.4,-0.9,-0.4,0.1,0.5,1.0,1.6,2.2,2.9,3.4,2.7,2.2,1.6]],
  [3,1885,[-0.4,0.4,1.3,2.0,2.4,1.8,1.2,0.5,-0.2,-0.9,-1.6,-2.4,-2.9,-3.2,-2.7,-2.3,-2.0,-1.6,-2.1,-2.4,-2.0,-1.7]],
  [7,1890,[0.8,0.6,1.2,1.6,2.1,2.5,2.9,2.5,2.1,2.6,2.2,1.8,2.3,2.0,2.4,3.0,2.6,2.1,1.5,1.0,0.2]],
  [14,1900,[4.4,5.0,4.6,4.7,5.0,4.9,5.0,5.3,4.2,3.6,3.9,3.5,3.9,4.2,4.1,3.7,3.4,2.9,2.7]],
  [15,1910,[-2.9,-2.6,-2.0,-1.7,-2.2,-1.8,-1.4,-0.9,-0.3,0.2,0.7,1.3,2.0,2.8,3.3,2.9,2.3]],
  [9,1900,[1.8,2.3,2.0,1.6,2.1,2.5,2.9,2.4,3.3,3.9,4.7,3.6,3.2,3.6,3.0,2.5,2.0,1.4,1.0]],
  [13,1905,[3.3,3.6,3.0,2.5,2.0,2.5,2.9,2.4,2.8,3.2,3.6,3.3,3.8,4.4,3.9,3.3,2.8,2.5]],
  [8,1900,[3.0,3.5,2.9,2.4,2.8,2.2,1.8,2.3,1.7,1.2,1.6,1.1,1.5,1.9,1.4,0.9,0.4,0.8,0.3]],
  [2,1905,[0.6,1.0,1.5,1.1,0.6,0.1,-0.4,0.1,-0.3,1.5,2.5,3.8,3.2,2.5,1.6,1.0,0.6,0.2]],
  [6,1900,[2.5,2.0,1.5,2.0,2.4,1.9,1.4,0.9,0.4,0.9,1.4,0.9,0.4,1.0,1.6,1.1,0.6,-0.2,0.4]],
  [12,1900,[-0.5,0.0,-0.5,-1.0,-1.5,-2.0,-2.4,-1.8,-1.2,-1.6,-1.1,-0.6,-1.0,-1.4,-1.9,-1.3,-0.8,-1.3,-1.6]],
  [7,1905,[1.3,1.8,2.4,1.9,1.4,1.9,2.4,1.9,1.5,1.0,1.5,1.0,0.6,1.1,0.6,0.1,-0.4,-1.0]],
  [0,1905,[0.4,0.0,-0.4,0.0,0.5,0.1,-0.4,0.1,0.6,1.1,0.6,0.2,0.7,1.2,0.7,0.2,-0.3,0.2]],
  [10,1910,[2.6,2.2,1.8,2.2,2.7,2.3,1.8,2.3,1.6,1.2,1.7,1.2,0.8,1.3,0.7,0.2,-0.5]],
  [11,1910,[1.0,1.5,1.1,0.6,1.1,1.6,1.1,0.7,1.2,1.7,1.3,0.8,1.3,0.9,0.4,0.9,1.3]],
  [14,1900,[2.2,2.7,3.2,2.7,2.2,2.7,2.2,2.7,3.2,2.7,2.2,2.7,3.2,3.7,3.2,2.6,2.1,1.6,1.1]],
  [9,1905,[1.0,0.5,1.0,1.5,1.0,0.5,1.0,1.5,1.0,1.5,1.1,0.6,1.1,1.6,1.1,0.6,0.1,-0.4]],
  [5,1905,[2.0,1.5,1.0,1.5,1.9,1.4,0.9,0.4,0.9,1.4,0.9,1.5,2.0,2.9,2.3,1.6,0.9,0.4]],
  [15,1910,[0.5,0.0,-0.5,-1.0,-1.4,-0.9,-0.4,-0.9,-0.4,0.1,0.6,1.1,1.6,1.1,0.6,0.1,-0.3]],
  [8,1910,[1.6,2.1,1.6,1.1,1.6,2.1,2.6,2.1,1.6,1.1,1.6,2.1,1.6,1.1,0.6,1.1,0.6]],
  [13,1905,[1.9,1.5,1.0,0.5,0.0,-0.5,-1.0,-0.5,0.0,0.5,1.0,0.5,1.0,1.5,1.0,0.5,0.0,-0.5]]
];

const PANEL_ROWS = [cdd, cwd, prcptot, r5mm, r10mm, r20mm, r95ptot, r99ptot, rx1day, rx5day, sdii];

// ---- styling ----
const STATION_COLORS = ['#F8766D','#E68613','#CD9600','#ABA300','#7CAE00','#0CB702','#00BE67','#00C19A',
                        '#00BFC4','#00B8E7','#00A9FF','#8494FF','#C77CFF','#ED68ED','#FF61CC','#FF68A1'];
const FONT = '"Liberation Sans", Arial, Helvetica, sans-serif';
const X_MIN = 1868.2, X_MAX = 1995.8;
const Y_MIN = -4.2, Y_MAX = 5.95;
const COL_LEFT = [40, 586];
const COL_WIDTH = [506, 505];
const ROW_TOP0 = 27, ROW_PITCH = 166, PANEL_H = 111;
const plain = v => String(v);

const grids = [], xAxes = [], yAxes = [], titles = [], series = [];

PANEL_ROWS.forEach((rows, p) => {
  const col = p % 2, row = Math.floor(p / 2);
  const left = COL_LEFT[col], top = ROW_TOP0 + ROW_PITCH * row;

  grids.push({
    left: left, top: top, width: COL_WIDTH[col], height: PANEL_H,
    show: true, backgroundColor: '#FFFFFF', borderColor: '#B3B3B3', borderWidth: 1
  });

  xAxes.push({
    type: 'value', gridIndex: p, min: X_MIN, max: X_MAX,
    name: 'Year', nameLocation: 'middle', nameGap: 21,
    nameTextStyle: { fontFamily: FONT, fontSize: 12, color: '#000000' },
    axisLine: { show: false },
    axisTick: { show: true, length: 3, lineStyle: { color: '#333333', width: 1 }, customValues: YEAR_TICKS },
    axisLabel: { customValues: YEAR_TICKS, formatter: plain, margin: 7, fontFamily: FONT, fontSize: 11, color: '#4D4D4D' },
    splitLine: { show: false }
  });

  yAxes.push({
    type: 'value', gridIndex: p, min: Y_MIN, max: Y_MAX,
    name: 'z-score', nameLocation: 'middle', nameGap: 19, nameRotate: 90,
    nameTextStyle: { fontFamily: FONT, fontSize: 11, color: '#000000' },
    axisLine: { show: false },
    axisTick: { show: true, length: 3, lineStyle: { color: '#333333', width: 1 }, customValues: Z_TICKS },
    axisLabel: { customValues: Z_TICKS, formatter: plain, margin: 5, fontFamily: FONT, fontSize: 11, color: '#4D4D4D' },
    splitLine: { show: false }
  });

  titles.push({
    text: INDICES[p], left: left - 1, top: 12 + ROW_PITCH * row, padding: 0,
    textStyle: { fontFamily: FONT, fontSize: 10.5, fontWeight: 'normal', color: '#1A1A1A' }
  });

  // panel grid lines (theme_bw style)
  const major = { color: '#E6E6E6', width: 0.9, type: 'solid' };
  const minor = { color: '#F2F2F2', width: 0.6, type: 'solid' };
  series.push({
    type: 'line', xAxisIndex: p, yAxisIndex: p, data: [], silent: true, z: 1,
    markLine: {
      silent: true, symbol: ['none', 'none'], label: { show: false }, animation: false,
      data: []
        .concat(YEAR_MINOR.map(v => ({ xAxis: v, lineStyle: minor })))
        .concat(Z_MINOR.map(v => ({ yAxis: v, lineStyle: minor })))
        .concat(YEAR_TICKS.map(v => ({ xAxis: v, lineStyle: major })))
        .concat(Z_TICKS.map(v => ({ yAxis: v, lineStyle: major })))
    }
  });

  // station lines
  rows.forEach(([stn, from, vals]) => {
    series.push({
      type: 'line', xAxisIndex: p, yAxisIndex: p, z: 2, silent: true,
      showSymbol: false, symbol: 'none', animation: false,
      lineStyle: { width: 1.3, color: STATION_COLORS[stn] },
      itemStyle: { color: STATION_COLORS[stn] },
      data: vals.map((v, i) => [from + STEP * i, v])
    });
  });

  // reference lines: zero, +/-2 limits, break years
  series.push({
    type: 'line', xAxisIndex: p, yAxisIndex: p, data: [], silent: true, z: 3,
    markLine: {
      silent: true, symbol: ['none', 'none'], label: { show: false }, animation: false,
      data: [{ yAxis: 0, lineStyle: { color: '#000000', width: 1.3, type: 'solid' } }]
        .concat(Z_LIMITS.map(v => ({ yAxis: v, lineStyle: { color: '#2B2BE0', width: 1.1, type: [4, 4] } })))
        .concat(BREAK_YEARS.map(v => ({ xAxis: v, lineStyle: { color: '#FF1A1A', width: 1.5, type: [2, 2] } })))
    }
  });
});

const chart = echarts.init(document.getElementById('chart'), null, { renderer: 'canvas' });
chart.setOption({
  animation: false,
  backgroundColor: '#FFFFFF',
  title: titles,
  grid: grids,
  xAxis: xAxes,
  yAxis: yAxes,
  series: series
});
</script>
</body>
</html>
